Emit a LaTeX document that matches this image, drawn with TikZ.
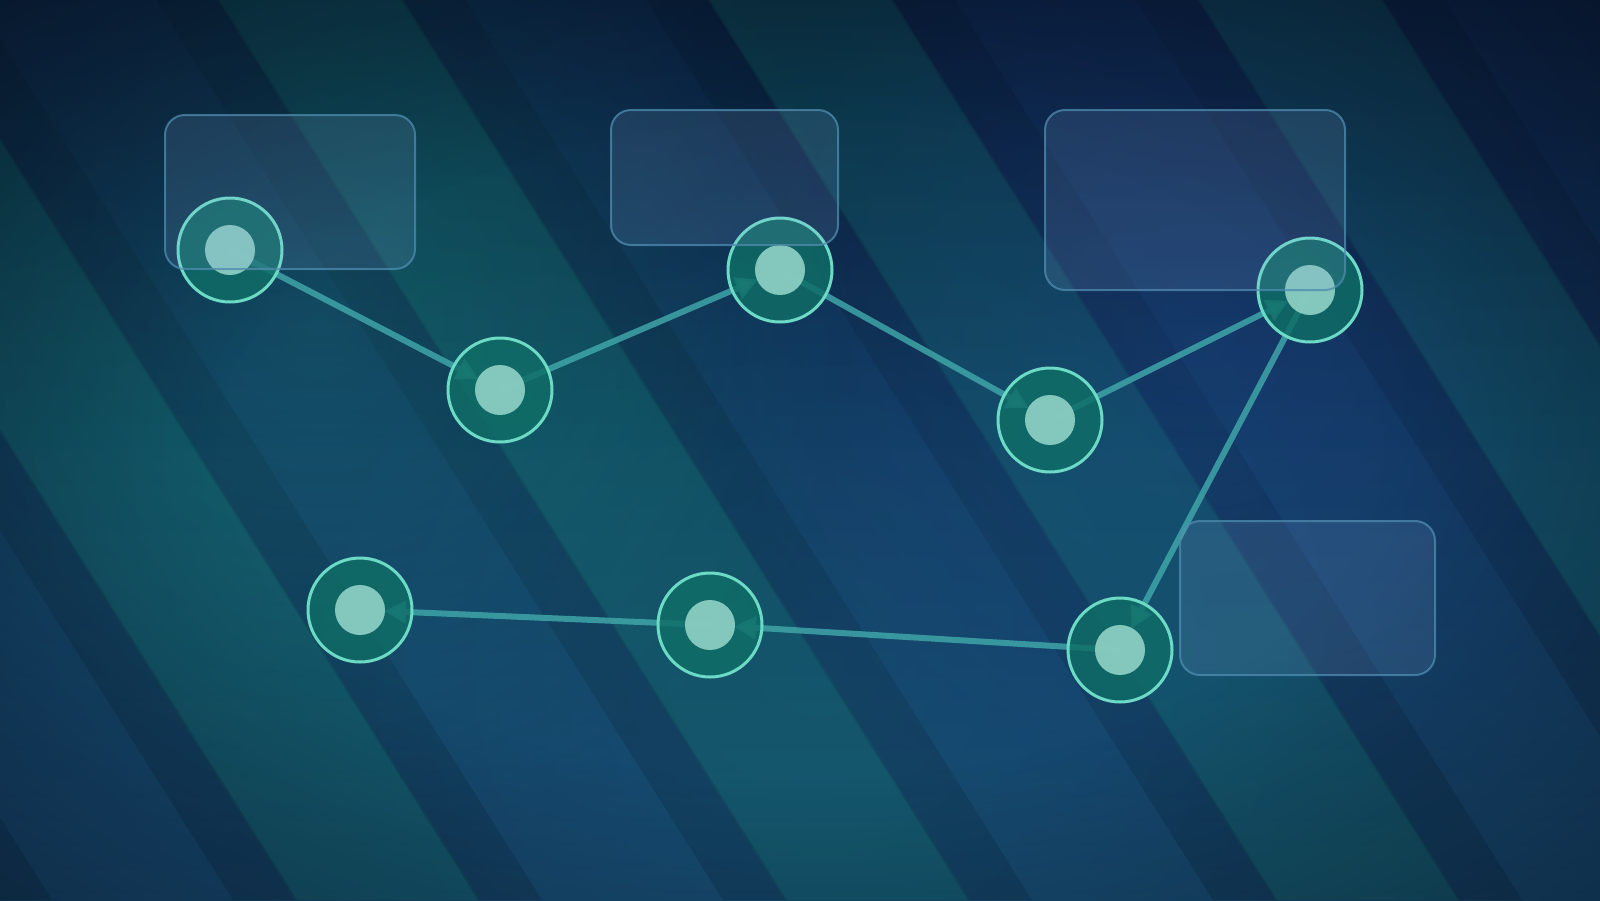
\documentclass[tikz,border=0pt]{standalone}
\usetikzlibrary{arrows.meta,fadings}
\definecolor{bgtop}{HTML}{0C2448}
\definecolor{bgbot}{HTML}{174A70}
\definecolor{tealband}{HTML}{107060}
\definecolor{edgec}{HTML}{3FA5A8}
\definecolor{ringc}{HTML}{6DDAC6}
\definecolor{nodefill}{HTML}{0F6E66}
\definecolor{corec}{HTML}{8FD0C5}
\definecolor{boxfill}{HTML}{8AB0E0}
\definecolor{boxline}{HTML}{4F8CB0}
\definecolor{glowteal}{HTML}{1A8A8A}
\definecolor{glowblue}{HTML}{2452A8}
\definecolor{glowmid}{HTML}{1A6A8A}
\definecolor{vigc}{HTML}{050B18}
\definecolor{stripec}{HTML}{06101E}
\pgfdeclareradialshading{vigshade}{\pgfpointorigin}{color(0bp)=(black); color(18bp)=(black); color(50bp)=(white)}
\pgfdeclarefading{vig}{\pgfuseshading{vigshade}}
\tikzfading[name=glowf, inner color=transparent!0, outer color=transparent!100]
\tikzfading[name=topfade, top color=transparent!0, bottom color=transparent!100]
\pgfdeclarelayer{back}
\pgfdeclarelayer{links}
\pgfsetlayers{back,links,main}
\tikzset{
  ring/.style={circle, minimum size=104pt, inner sep=0pt, fill=nodefill, fill opacity=0.82, draw=ringc, draw opacity=1, line width=3pt},
  core/.style={circle, minimum size=50pt, inner sep=0pt, fill=corec, fill opacity=0.92},
  link/.style={draw=edgec, draw opacity=0.85, line width=6pt, -{Triangle[length=22pt,width=22pt]}, shorten >=24pt},
  panel/.style={rectangle, rounded corners=20pt, inner sep=0pt, fill=boxfill, fill opacity=0.15, draw=boxline, draw opacity=0.75, line width=2pt}
}
\begin{document}
\begin{tikzpicture}[x=1pt,y=-1pt]
\useasboundingbox (0,0) rectangle (1600,900);
\begin{pgfonlayer}{back}
  \begin{scope}
    \clip (0,0) rectangle (1600,900);
    \fill[top color=bgtop, bottom color=bgbot] (-5,-5) rectangle (1605,905);
    \foreach \a in {-792,-302,188,678,1168,1658}{
      \fill[tealband, opacity=0.33] (\a+30,0) -- (\a+215,0) -- (\a+782,900) -- (\a+597,900) -- cycle;
    }
    \foreach \c in {-792,-547,-302,-57,188,433,678,923,1168,1413,1658}{
      \fill[stripec, opacity=0.2] (\c-32,0) -- (\c+32,0) -- (\c+599,900) -- (\c+535,900) -- cycle;
    }
    \fill[glowteal, opacity=0.34, path fading=glowf] (320,320) circle (540);
    \fill[glowblue, opacity=0.30, path fading=glowf] (1200,340) circle (520);
    \fill[glowmid, opacity=0.22, path fading=glowf] (820,660) circle (560);
    \fill[vigc, opacity=0.22, path fading=topfade] (-5,-5) rectangle (1605,450);
    \fill[vigc, opacity=0.78, path fading=vig, fit fading=true] (-5,-5) rectangle (1605,905);
  \end{scope}
\end{pgfonlayer}

\node[ring] (n1) at (230,250) {};
\node[ring] (n2) at (500,390) {};
\node[ring] (n3) at (780,270) {};
\node[ring] (n4) at (1050,420) {};
\node[ring] (n5) at (1310,290) {};
\node[ring] (n6) at (1120,650) {};
\node[ring] (n7) at (710,625) {};
\node[ring] (n8) at (360,610) {};
\foreach \n in {n1,n2,n3,n4,n5,n6,n7,n8}{
  \node[core] (\n c) at (\n.center) {};
}

\begin{pgfonlayer}{links}
  \draw[link] (n1.center) -- (n2.center);
  \draw[link] (n2.center) -- (n3.center);
  \draw[link] (n3.center) -- (n4.center);
  \draw[link] (n4.center) -- (n5.center);
  \draw[link] (n5.center) -- (n6.center);
  \draw[link] (n6.center) -- (n7.center);
  \draw[link] (n7.center) -- (n8.center);
\end{pgfonlayer}

\node[panel, minimum width=250pt, minimum height=154pt] (b1) at (290,192) {};
\node[panel, minimum width=227pt, minimum height=135pt] (b2) at (724.5,177.5) {};
\node[panel, minimum width=300pt, minimum height=180pt] (b3) at (1195,200) {};
\node[panel, minimum width=255pt, minimum height=154pt] (b4) at (1307.5,598) {};
\end{tikzpicture}
\end{document}
